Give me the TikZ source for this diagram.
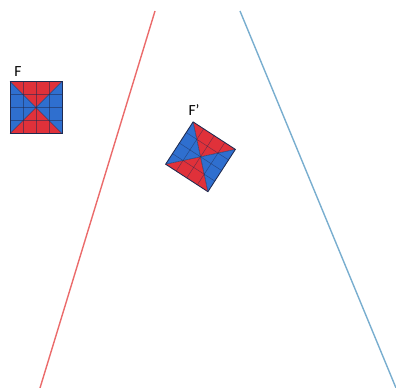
\documentclass[tikz,border=0pt]{standalone}
\usepackage{fontspec}
\setmainfont{Carlito}
\definecolor{mirrorred}{HTML}{EB6B6B}
\definecolor{mirrorblue}{HTML}{79AECF}
\definecolor{tilered}{HTML}{E0313A}
\definecolor{tileblue}{HTML}{2F6FCF}
\definecolor{tilegrid}{HTML}{1F2A50}

\tikzset{
  tile/.pic={
    \fill[tilered] (-26,-26) -- (26,-26) -- (0,0) -- cycle;
    \fill[tilered] (-26,26) -- (26,26) -- (0,0) -- cycle;
    \fill[tileblue] (-26,-26) -- (-26,26) -- (0,0) -- cycle;
    \fill[tileblue] (26,-26) -- (26,26) -- (0,0) -- cycle;
    \foreach \k in {-13,0,13}{
      \draw[tilegrid,opacity=.55,line width=.35pt] (\k,-26) -- (\k,26);
      \draw[tilegrid,opacity=.55,line width=.35pt] (-26,\k) -- (26,\k);
    }
    \draw[tilegrid,opacity=.7,line width=.4pt] (-26,-26) -- (26,26) (-26,26) -- (26,-26);
    \draw[tilegrid,line width=.6pt] (-26,-26) rectangle (26,26);
  },
  lbl/.style={font=\fontsize{11}{13}\selectfont,inner sep=0pt}
}

\begin{document}
\begin{tikzpicture}[x=0.25mm,y=-0.25mm]
\useasboundingbox (0,0) rectangle (396,388);
% mirror lines
\coordinate (redtop) at (155,11);
\coordinate (redbot) at (40,388);
\coordinate (bluetop) at (240,11);
\coordinate (bluebot) at (396,388);
\draw[mirrorred,line width=1pt] (redtop) -- (redbot);
\draw[mirrorblue,line width=1pt] (bluetop) -- (bluebot);
% figure and its image
\pic at (36,107.5) {tile};
\node[lbl] (F) at (18,72) {F};
\pic[rotate=-33,scale=.97] at (200.5,156.8) {tile};
\node[lbl] (Fp) at (194,110) {F'};
\end{tikzpicture}
\end{document}
